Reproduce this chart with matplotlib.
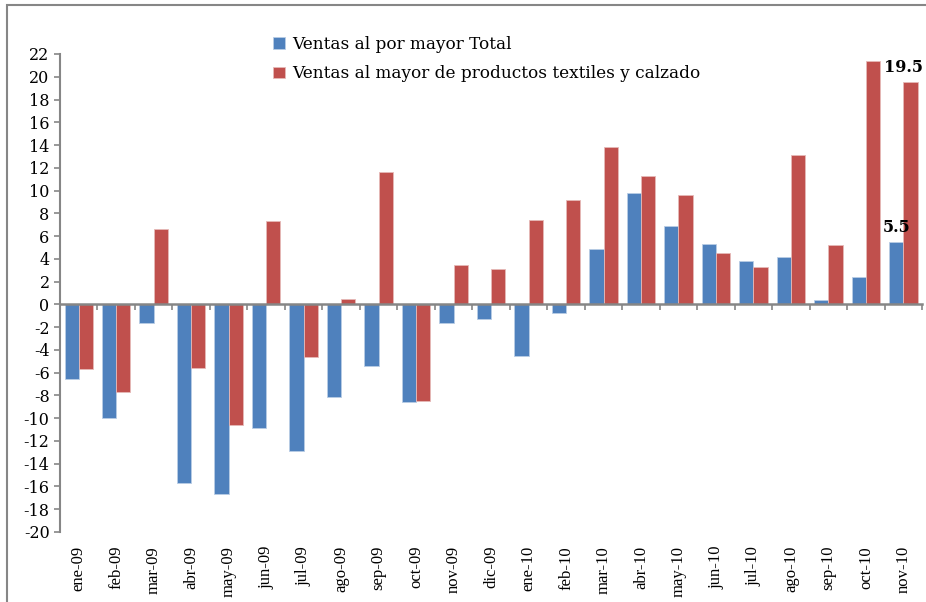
import matplotlib.pyplot as plt
import numpy as np
from matplotlib.patches import Rectangle

plt.rcParams['axes.unicode_minus'] = False

meses = ['ene-09', 'feb-09', 'mar-09', 'abr-09', 'may-09', 'jun-09', 'jul-09',
         'ago-09', 'sep-09', 'oct-09', 'nov-09', 'dic-09', 'ene-10', 'feb-10',
         'mar-10', 'abr-10', 'may-10', 'jun-10', 'jul-10', 'ago-10', 'sep-10',
         'oct-10', 'nov-10']
total = [-6.6, -10.0, -1.6, -15.7, -16.7, -10.9, -12.9, -8.1, -5.4, -8.6, -1.6,
         -1.3, -4.5, -0.8, 4.9, 9.8, 6.9, 5.3, 3.8, 4.2, 0.4, 2.4, 5.5]
textiles = [-5.7, -7.7, 6.6, -5.6, -10.6, 7.3, -4.6, 0.5, 11.6, -8.5, 3.5, 3.1,
            7.4, 9.2, 13.8, 11.3, 9.6, 4.5, 3.3, 13.1, 5.2, 21.4, 19.5]

azul = '#4F81BD'
rojo = '#C0504D'
gris = '#868686'

fig = plt.figure(figsize=(9.26, 6.02), dpi=100)
ax = fig.add_axes([0.0648, 0.1163, 0.9310, 0.7940])

x = np.arange(len(meses))
w = 0.38
ax.bar(x - w / 2, total, w, color=azul, edgecolor='#B9CDE5', linewidth=0.6,
       label='Ventas al por mayor Total')
ax.bar(x + w / 2, textiles, w, color=rojo, edgecolor='#E6B9B8', linewidth=0.6,
       label='Ventas al mayor de productos textiles y calzado')

ax.set_xlim(-0.5, len(meses) - 0.5)
ax.set_ylim(-20, 22)
ax.set_yticks(np.arange(-20, 23, 2))
ax.tick_params(axis='y', direction='out', length=4, width=1.2, color=gris,
               labelsize=11.5)
for lab in ax.get_yticklabels():
    lab.set_family('DejaVu Serif')

# eje x en el cero, marcas entre categorias
ax.spines['bottom'].set_position(('data', 0))
ax.spines['bottom'].set_color(gris)
ax.spines['bottom'].set_linewidth(1.8)
ax.spines['left'].set_color(gris)
ax.spines['left'].set_linewidth(1.5)
ax.spines['top'].set_visible(False)
ax.spines['right'].set_visible(False)
ax.set_xticks(np.arange(len(meses) + 1) - 0.5)
ax.set_xticklabels([])
ax.tick_params(axis='x', direction='out', length=4, width=1.2, color=gris)

for i, m in enumerate(meses):
    ax.annotate(m, xy=(i, 0), xycoords=('data', 'axes fraction'),
                xytext=(0, -10), textcoords='offset points', rotation=90,
                ha='center', va='top', fontsize=12, family='Liberation Serif')

# etiquetas de datos del ultimo mes
ax.annotate('%.1f' % total[-1], xy=(x[-1] - w / 2, total[-1]), xytext=(0, 4),
            textcoords='offset points', ha='center', va='bottom',
            fontsize=11.5, fontweight='bold', family='DejaVu Serif')
ax.annotate('%.1f' % textiles[-1], xy=(x[-1] + w, textiles[-1]),
            xytext=(4, 5), textcoords='offset points', ha='right', va='bottom',
            fontsize=11.5, fontweight='bold', family='DejaVu Serif',
            annotation_clip=False)

leg = fig.legend(loc='upper left', bbox_to_anchor=(0.278, 0.966), frameon=False,
                 handlelength=0.7, handleheight=0.7, handletextpad=0.45,
                 labelspacing=0.75, prop={'family': 'DejaVu Serif', 'size': 12.2})

fig.patches.append(Rectangle((7 / 926, -0.02), 1.05, 1 - 5 / 602 + 0.02,
                             transform=fig.transFigure, fill=False,
                             edgecolor=gris, linewidth=1.5))

fig.savefig('out.png', dpi=100)
